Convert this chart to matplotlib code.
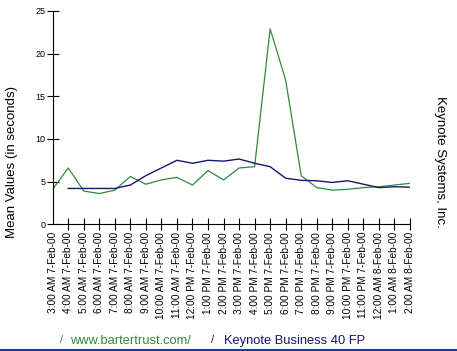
import matplotlib
matplotlib.use("Agg")
import matplotlib.pyplot as plt
from matplotlib.lines import Line2D

plt.rcParams["font.family"] = ["Liberation Sans", "DejaVu Sans"]

# hourly samples, 3 AM 7-Feb-00 .. 2 AM 8-Feb-00
HOURS = ["3:00 AM", "4:00 AM", "5:00 AM", "6:00 AM", "7:00 AM", "8:00 AM",
         "9:00 AM", "10:00 AM", "11:00 AM", "12:00 PM", "1:00 PM", "2:00 PM",
         "3:00 PM", "4:00 PM", "5:00 PM", "6:00 PM", "7:00 PM", "8:00 PM",
         "9:00 PM", "10:00 PM", "11:00 PM", "12:00 AM", "1:00 AM", "2:00 AM"]
DATES = ["7-Feb-00"] * 21 + ["8-Feb-00"] * 3

BARTER = [4.1, 6.6, 3.9, 3.6, 4.0, 5.6, 4.7, 5.2, 5.5, 4.6, 6.3, 5.2,
          6.6, 6.75, 22.9, 16.9, 5.7, 4.3, 4.0, 4.1, 4.3, 4.4, 4.6, 4.8]
KEYNOTE = [None, 4.2, 4.2, 4.2, 4.2, 4.6, 5.7, 6.6, 7.5, 7.15, 7.5, 7.4,
           7.65, 7.15, 6.75, 5.4, 5.15, 5.1, 4.9, 5.1, 4.7, 4.3, 4.4, 4.35]

SERIES_NAMES = ["www.bartertrust.com/", "Keynote Business 40 FP"]
GREEN = "#2f8a3c"
NAVY = "#16166e"

fig = plt.figure(figsize=(4.57, 3.51), dpi=100)
ax = fig.add_axes([0.1153, 0.361, 0.897 - 0.1153, 0.9687 - 0.361])

x = list(range(len(HOURS)))
ax.plot(x, BARTER, color=GREEN, lw=0.9)
kx = [i for i, v in zip(x, KEYNOTE) if v is not None]
ky = [v for v in KEYNOTE if v is not None]
ax.plot(kx, ky, color=NAVY, lw=1.0)

ax.set_xlim(0, len(HOURS) - 1)
ax.set_ylim(0, 25)
ax.set_yticks([0, 5, 10, 15, 20, 25])
ax.set_xticks(x)
ax.set_xticklabels([f"{h} {d}" for h, d in zip(HOURS, DATES)],
                   rotation=90, fontsize=7.3)
ax.tick_params(axis="x", direction="inout", length=9, width=0.8, pad=1)
ax.tick_params(axis="y", direction="inout", length=8, width=0.8,
               labelsize=6.5, pad=1)
ax.xaxis.get_major_ticks()[0].tick1line.set_visible(False)
for s in ("top", "right"):
    ax.spines[s].set_visible(False)
for s in ("left", "bottom"):
    ax.spines[s].set_linewidth(0.8)

fig.text(0.027, 0.538, "Mean Values (in seconds)", rotation=90,
         ha="center", va="center", fontsize=9.5)
fig.text(0.963, 0.538, "Keynote Systems, Inc.", rotation=270,
         ha="center", va="center", fontsize=9.5)

# legend row at the bottom
fig.text(0.135, 0.03, "/", color=GREEN, fontsize=8, ha="center", va="center")
fig.text(0.153, 0.028, SERIES_NAMES[0], color=GREEN, fontsize=9.3,
         ha="left", va="center")
fig.text(0.466, 0.03, "/", color=NAVY, fontsize=8, ha="center", va="center")
fig.text(0.49, 0.028, SERIES_NAMES[1], color=NAVY, fontsize=9.3,
         ha="left", va="center")
fig.add_artist(Line2D([0, 1], [0.003, 0.003], color="#1a3a8a", lw=1.5,
                      transform=fig.transFigure))

fig.savefig("out.png", dpi=100)
